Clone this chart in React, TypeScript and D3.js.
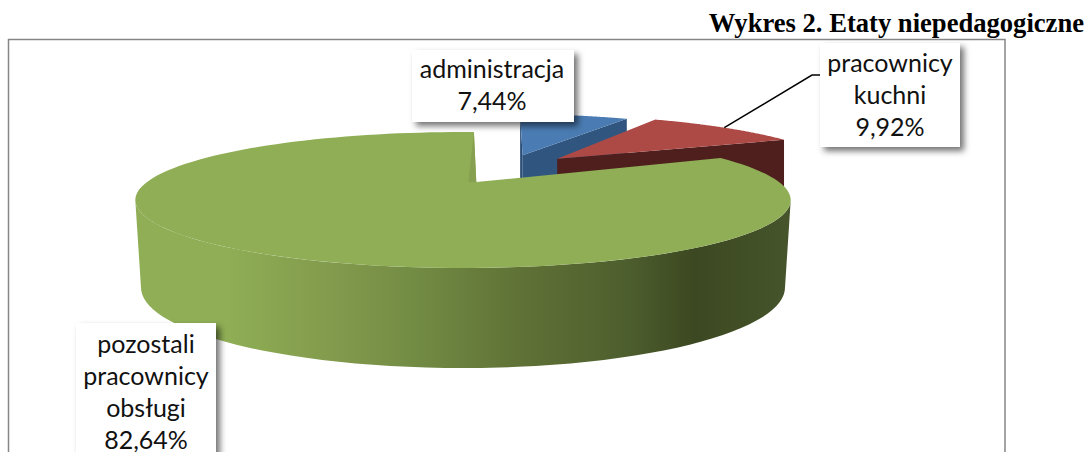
import React from 'react';
import * as d3 from 'd3';

const W = 1087;
const H = 452;

const title = 'Wykres 2. Etaty niepedagogiczne';
const categories = ['administracja', 'pracownicy kuchni', 'pozostali pracownicy obsługi'];
const values = [7.44, 9.92, 82.64];
const labelLines = [
    ['administracja', '7,44%'],
    ['pracownicy', 'kuchni', '9,92%'],
    ['pozostali', 'pracownicy', 'obsługi', '82,64%'],
];

// perspective of the pie: k is how much the front is pulled towards the viewer
const k = 0.265;
const startDeg = 2.5;
const project = (p, u, v) => {
    const d = 1 - k * v;
    return [p.cx + (p.A * u) / d, p.cy + (p.a * v) / d];
};
const rim = (p, angle) => project(p, Math.sin(angle), -Math.cos(angle));

const slices = d3.pie().sort(null)
    .startAngle((startDeg * Math.PI) / 180)
    .endAngle(((startDeg + 360) * Math.PI) / 180)(values);

// each slice is pulled out on its own, so each has its own frame
const frames = [
    { cx: 510, cy: 160.5, A: 294, a: 58.8, u0: 0.044, v0: -0.09, depth: 70 },
    { cx: 533, cy: 163, A: 308, a: 61.3, u0: 0.08, v0: -0.07, depth: 72 },
    { cx: 463, cy: 182, A: 316, a: 63.2, u0: 0.042, v0: 0, depth: 0 },
];
const greenBottom = { cx: 463, cy: 266, A: 310.5, a: 75 };

const colors = {
    top: ['#4a7bb2', '#ad4a46', '#8fae55'],
    side: ['#305680', '#4f1f1e', '#86a04f'],
    edge: ['#2b4d76', '#4f1f1e', '#86a04f'],
};
const wallStops = [
    [0, '#8fae55'], [0.13, '#8fae55'], [0.3, '#829a4c'], [0.42, '#738c44'],
    [0.6, '#5e7035'], [0.75, '#4e5f2e'], [0.86, '#3c4821'], [1, '#45542a'],
];

const boxes = [
    { x: 412, y: 50, w: 162, h: 72, tx: 492, base: 78 },
    { x: 820, y: 43, w: 140, h: 104, tx: 890, base: 72 },
    { x: 76, y: 323, w: 140, h: 140, tx: 146, base: 353 },
];
const lineStep = 32;

const line = d3.line();
const arcPoints = (p, a0, a1, n = 60) =>
    d3.range(n + 1).map(i => rim(p, a0 + ((a1 - a0) * i) / n));

const App = () => {
    const [f0, f1, f2] = frames;
    const tangent = Math.PI / 2 + Math.asin(k);

    const topPath = (i) => {
        const p = frames[i];
        const s = slices[i];
        const apex = project(p, p.u0, p.v0);
        return line([apex, ...arcPoints(p, s.startAngle, s.endAngle, 120)]) + 'Z';
    };

    // front faces of the two small slices, running down from their cut edge
    const cutFace = (i, angle) => {
        const p = frames[i];
        const apex = project(p, p.u0, p.v0);
        const r = rim(p, angle);
        return line([apex, r, [r[0], r[1] + p.depth], [apex[0], apex[1] + p.depth]]) + 'Z';
    };

    const greenWall = (() => {
        const a0 = tangent;
        const a1 = 2 * Math.PI - tangent;
        const top = arcPoints(f2, a0, a1);
        const bottom = arcPoints(greenBottom, a0, a1).reverse();
        return line([...top, ...bottom]) + 'Z';
    })();

    const blueLeft = (() => {
        const apex = project(f0, f0.u0, f0.v0);
        const r = rim(f0, slices[0].startAngle);
        return line([r, apex, [apex[0], apex[1] + f0.depth], [r[0], r[1] + f0.depth]]) + 'Z';
    })();

    const greenCut = (() => {
        const apex = project(f2, f2.u0, f2.v0);
        const r = rim(f2, slices[2].endAngle);
        const back = project(f2, f2.u0 - 0.025, f2.v0);
        return line([r, apex, back]) + 'Z';
    })();

    const leaderStart = rim(f1, (slices[1].startAngle + slices[1].endAngle) / 2);

    return (
        <svg width={W} height={H} style={{ position: 'absolute', left: 0, top: 0, background: '#fff' }}>
            <defs>
                <linearGradient id="wall" gradientUnits="userSpaceOnUse" x1={142} x2={785} y1={0} y2={0}>
                    {wallStops.map(([o, c]) => <stop key={o} offset={o} stopColor={c} />)}
                </linearGradient>
                <filter id="shadow" x="-20%" y="-20%" width="145%" height="145%">
                    <feDropShadow dx={4} dy={4} stdDeviation={3} floodColor="#000" floodOpacity={0.55} />
                </filter>
            </defs>

            <rect x={8.5} y={39.5} width={996.5} height={H} fill="#fff" stroke="#868686" strokeWidth={1.5} />
            <text x={1084} y={32} textAnchor="end" fontFamily="Liberation Serif" fontWeight="bold" fontSize={26.6} fill="#000">
                {title}
            </text>

            <path d={blueLeft} fill={colors.edge[0]} />
            <path d={cutFace(0, slices[0].endAngle)} fill={colors.side[0]} />
            <path d={topPath(0)} fill={colors.top[0]} />

            <path d={cutFace(1, slices[1].endAngle)} fill={colors.side[1]} />
            <path d={topPath(1)} fill={colors.top[1]} />

            <path d={greenWall} fill="url(#wall)" />
            <path d={topPath(2)} fill={colors.top[2]} />
            <path d={greenCut} fill={colors.side[2]} />

            <path d={line([leaderStart, [812, 75], [823, 75]])} fill="none" stroke="#000" strokeWidth={1.5} />

            {boxes.map((b, i) => (
                <g key={categories[i]}>
                    <rect x={b.x} y={b.y} width={b.w} height={b.h} fill="#fff" filter="url(#shadow)" />
                    {labelLines[i].map((t, j) => (
                        <text key={t} x={b.tx} y={b.base + j * lineStep} textAnchor="middle"
                            fontFamily="Lato" fontSize={25} fill="#111">
                            {t}
                        </text>
                    ))}
                </g>
            ))}
        </svg>
    );
};

export default App;
